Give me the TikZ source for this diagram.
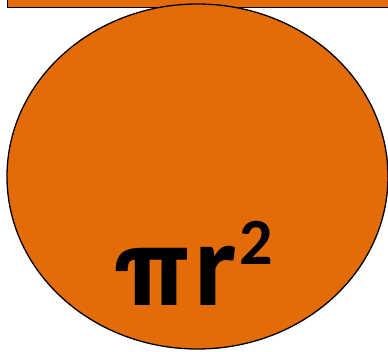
\documentclass[tikz,border=0pt]{standalone}
\usepackage{fontspec}
\setmainfont{Carlito}
\newfontfamily\pifont{TeX Gyre Heros}
\usepackage{tikz}
\usetikzlibrary{positioning,shapes.geometric}
\definecolor{fillorange}{HTML}{E36C09}

\begin{document}
\begin{tikzpicture}[x=1pt,y=-1pt,
    patch/.style={fill=fillorange,draw=black,line width=1.3pt}]
      \useasboundingbox (0,0) rectangle (388,352);
      \node[patch,rectangle,minimum width=400pt,minimum height=30pt,inner sep=0pt,anchor=south west] (bar) at (7,8) {};
      \node[patch,ellipse,minimum width=381pt,minimum height=345pt,inner sep=0pt] (disc) at (197.5,176.5) {};
      \node[anchor=base west,inner sep=0pt] (area) at (112,306)
        {\bfseries\fontsize{120}{120}\selectfont{\pifont\fontsize{106}{106}\selectfont π}\kern4pt r\kern2pt\raisebox{41pt}{\fontsize{66}{66}\selectfont 2}};
    \end{tikzpicture}
\end{document}
